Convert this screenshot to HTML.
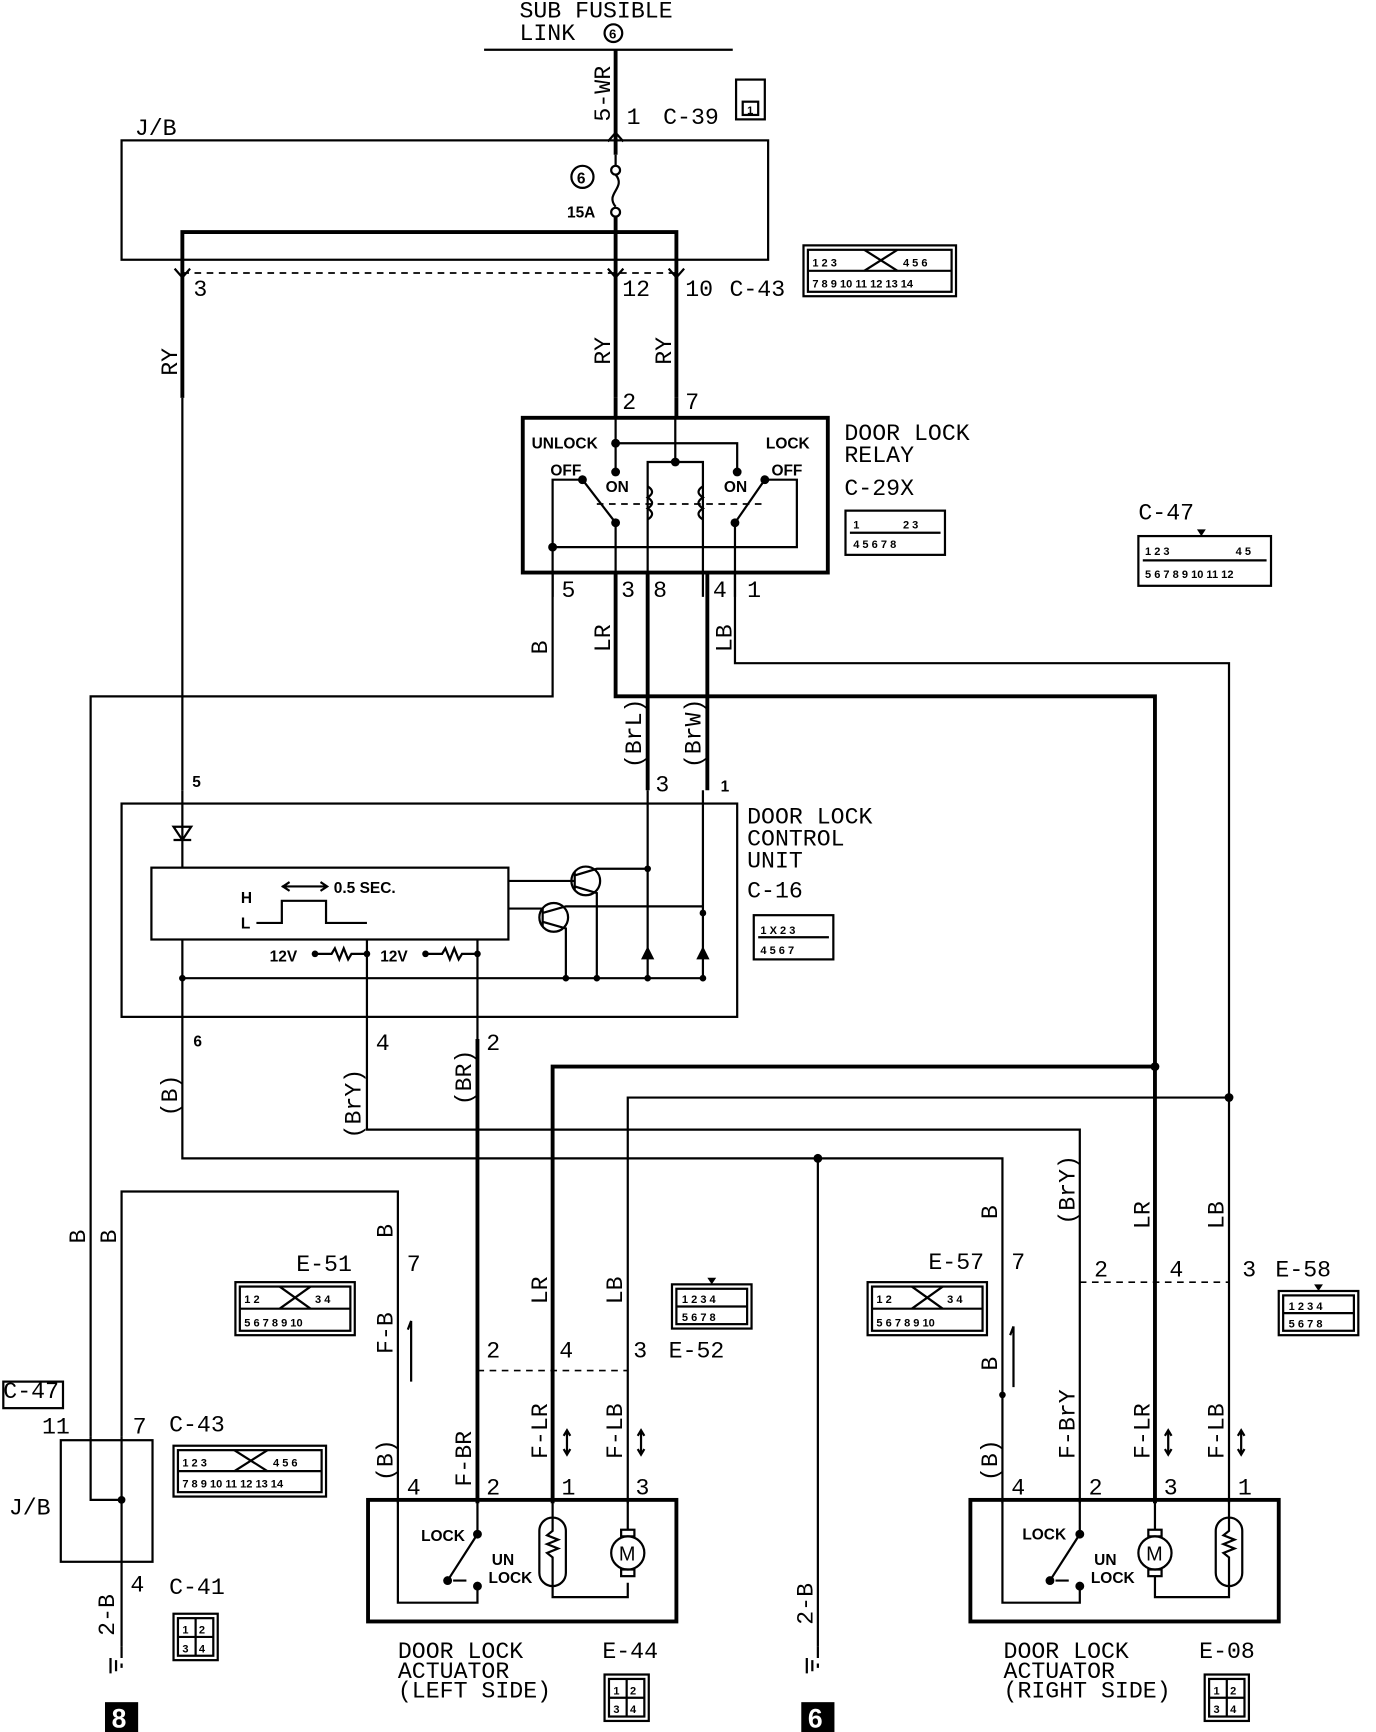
<!DOCTYPE html>
<html><head><meta charset="utf-8"><style>
html,body{margin:0;padding:0;background:#fff}
svg{display:block}
text{font-family:"Liberation Mono",monospace;fill:#000}
.t{font-size:21px}
.s{font-size:14px;font-weight:bold;font-family:"Liberation Sans",sans-serif}
.w{stroke:#000;stroke-width:2;fill:none}
.k{stroke:#000;stroke-width:3.5;fill:none}
.d{stroke:#000;stroke-width:1.5;fill:none;stroke-dasharray:6 5}
.c{font-size:10px;font-weight:bold;font-family:"Liberation Sans",sans-serif}
</style></head><body>
<svg width="1376" height="1732" viewBox="0 0 1245 1567" preserveAspectRatio="none" xmlns="http://www.w3.org/2000/svg">
<defs>
<g id="conn2"><rect x="0" y="0" width="40" height="42" class="w" stroke-width="2.5"/><rect x="4" y="4" width="32" height="34" class="w"/><line x1="20" y1="4" x2="20" y2="38" class="w"/><line x1="4" y1="21" x2="36" y2="21" class="w"/><text x="8" y="18" class="c">1</text><text x="23" y="18" class="c">2</text><text x="8" y="35" class="c">3</text><text x="23" y="35" class="c">4</text></g>
<g id="c14"><rect x="0" y="0" width="138" height="46" class="w" stroke-width="2.5"/><rect x="4" y="4" width="130" height="38" class="w"/><line x1="4" y1="23" x2="134" y2="23" class="w"/>
<text x="8" y="19" class="c">1 2 3</text><text x="90" y="19" class="c">4 5 6</text><text x="8" y="38" class="c">7 8 9 10 11 12 13 14</text><line x1="55" y1="4" x2="85" y2="23" class="w"/><line x1="85" y1="4" x2="55" y2="23" class="w"/></g>
<g id="c10"><rect x="0" y="0" width="108" height="48" class="w" stroke-width="2.5"/><rect x="4" y="4" width="100" height="40" class="w"/><line x1="4" y1="24" x2="104" y2="24" class="w"/>
<text x="8" y="19" class="c">1  2</text><text x="72" y="19" class="c">3  4</text><text x="8" y="40" class="c">5 6 7 8 9 10</text><line x1="40" y1="4" x2="68" y2="24" class="w"/><line x1="68" y1="4" x2="40" y2="24" class="w"/></g>
<g id="c8"><rect x="0" y="0" width="72" height="40" class="w" stroke-width="2.5"/><rect x="4" y="4" width="64" height="32" class="w"/><line x1="4" y1="20" x2="68" y2="20" class="w"/><text x="9" y="17" class="c">1 2 3 4</text><text x="9" y="33" class="c">5 6 7 8</text><path d="M32 -6 L40 -6 L36 0Z"/></g>
</defs>

<!-- top -->
<text x="470" y="16" class="t">SUB FUSIBLE</text>
<text x="470" y="36" class="t">LINK</text>
<circle cx="555" cy="30" r="8" class="w"/><text x="551" y="35" class="c" style="font-size:12px">6</text>
<line x1="438" y1="45" x2="663" y2="45" class="w"/>
<line x1="557" y1="45" x2="557" y2="140" class="k"/>
<text transform="translate(552,110) rotate(-90)" class="t">5-WR</text>
<text x="567" y="112" class="t">1</text><text x="600" y="112" class="t">C-39</text>
<rect x="666" y="72" width="26" height="36" class="w" stroke-width="2.5"/><rect x="672" y="92" width="14" height="12" class="w"/><text x="676" y="103" class="c">1</text>
<text x="122" y="122" class="t">J/B</text>
<rect x="110" y="127" width="585" height="108" class="w"/>
<circle cx="527" cy="160" r="10" class="w"/><text x="522" y="166" class="c" style="font-size:14px">6</text>
<path d="M557 140 V150 M557 158 C567 170,547 175,557 187" class="w"/>
<circle cx="557" cy="154" r="4" class="w"/><circle cx="557" cy="192" r="4" class="w"/>
<text x="513" y="197" class="s">15A</text>
<line x1="557" y1="196" x2="557" y2="360" class="k"/>
<path d="M165 360 V210 H612 V360" class="k"/>
<line x1="165" y1="247" x2="612" y2="247" class="d"/>
<text x="175" y="268" class="t">3</text><text x="563" y="268" class="t">12</text><text x="620" y="268" class="t">10</text><text x="660" y="268" class="t">C-43</text>
<use href="#c14" x="727" y="222"/>
<text transform="translate(160,340) rotate(-90)" class="t">RY</text>
<text transform="translate(552,330) rotate(-90)" class="t">RY</text>
<text transform="translate(607,330) rotate(-90)" class="t">RY</text>
<path d="M550 128 L557 120 L564 128 M550 243 L557 251 L564 243 M158 243 L165 251 L172 243 M605 243 L612 251 L619 243" class="w"/>

<!-- relay -->
<text x="563" y="370" class="t">2</text><text x="620" y="370" class="t">7</text>
<path d="M557 360 V378 M612 360 V378" class="k"/>
<rect x="473" y="378" width="276" height="140" class="k" stroke-width="3"/>
<text x="481" y="406" class="s">UNLOCK</text><text x="693" y="406" class="s">LOCK</text>
<text x="498" y="430" class="s">OFF</text><text x="698" y="430" class="s">OFF</text>
<text x="548" y="445" class="s">ON</text><text x="655" y="445" class="s">ON</text>
<path d="M557 378 V427 M557 401 H667 V427 M611 378 V418 M586 540 V418 H636 V540" class="w" stroke-width="2.5"/>
<path d="M586 440 q8 5 0 10 q8 5 0 10 q8 5 0 10 M636 440 q-8 5 0 10 q-8 5 0 10 q-8 5 0 10" class="w"/>
<path d="M557 540 V473 L527 434 M527 434 H500 V540 M500 495 H721 V434 H692 M665 540 V473 L692 434" class="w" stroke-width="2.5"/>
<line x1="540" y1="456" x2="690" y2="456" class="d"/>
<g fill="#000"><circle cx="557" cy="401" r="4"/><circle cx="557" cy="427" r="4"/><circle cx="667" cy="427" r="4"/><circle cx="611" cy="418" r="4"/><circle cx="557" cy="473" r="4"/><circle cx="665" cy="473" r="4"/><circle cx="500" cy="495" r="4"/><circle cx="527" cy="434" r="4"/><circle cx="692" cy="434" r="4"/></g>
<text x="764" y="398" class="t">DOOR LOCK</text><text x="764" y="418" class="t">RELAY</text>
<text x="764" y="448" class="t">C-29X</text>
<rect x="765" y="462" width="90" height="40" class="w" stroke-width="2.5"/><line x1="769" y1="482" x2="851" y2="482" class="w"/><text x="772" y="478" class="c">1</text><text x="817" y="478" class="c">2 3</text><text x="772" y="496" class="c">4 5 6 7 8</text>
<text x="1030" y="470" class="t">C-47</text>
<rect x="1030" y="485" width="120" height="45" class="w" stroke-width="2.5"/><line x1="1034" y1="507" x2="1146" y2="507" class="w"/><text x="1036" y="502" class="c">1 2 3</text><text x="1118" y="502" class="c">4 5</text><text x="1036" y="523" class="c">5 6 7 8 9 10 11 12</text><path d="M1083 479 h8 l-4 6z"/>

<text x="508" y="540" class="t">5</text><text x="562" y="540" class="t">3</text><text x="591" y="540" class="t">8</text><text x="645" y="540" class="t">4</text><text x="676" y="540" class="t">1</text>
<!-- wires from relay -->
<path d="M500 518 V630 H82 V1300" class="w"/>
<path d="M557 518 V630 H1045 V1360" class="k" stroke-width="3"/>
<path d="M665 518 V600 H1112 V1360" class="w" stroke-width="2.5"/>
<path d="M586 518 V715 M640 518 V715" class="k" stroke-width="3"/>
<path d="M165 360 V715" class="w"/>
<text transform="translate(495,592) rotate(-90)" class="t">B</text>
<text transform="translate(552,590) rotate(-90)" class="t">LR</text>
<text transform="translate(662,590) rotate(-90)" class="t">LB</text>
<text transform="translate(580,695) rotate(-90)" class="t">(BrL)</text>
<text transform="translate(634,695) rotate(-90)" class="t">(BrW)</text>
<text x="174" y="712" class="s">5</text><text x="593" y="716" class="t">3</text><text x="652" y="716" class="s">1</text>

<!-- control unit -->
<rect x="110" y="727" width="557" height="193" class="w" stroke-width="3"/>
<text x="676" y="745" class="t">DOOR LOCK</text><text x="676" y="765" class="t">CONTROL</text><text x="676" y="785" class="t">UNIT</text>
<text x="676" y="812" class="t">C-16</text>
<rect x="682" y="828" width="72" height="40" class="w" stroke-width="2.5"/><line x1="686" y1="848" x2="750" y2="848" class="w"/><text x="688" y="845" class="c">1 X 2 3</text><text x="688" y="863" class="c">4 5 6 7</text>
<path d="M165 715 V785 M165 850 V940 M332 850 V940 M432 850 V940 M586 715 V885 M636 715 V885" class="w"/>
<path d="M157 748 h16 l-8 12z M157 760 h16" class="w" fill="#000"/>
<rect x="137" y="785" width="323" height="65" class="w"/>
<text x="218" y="817" class="s">H</text><text x="218" y="840" class="s">L</text>
<path d="M232 835 H255 V815 H295 V835 H332" class="w"/>
<path d="M255 802 H295 M262 798 L256 802 L262 806 M290 798 L296 802 L290 806" class="w"/>
<text x="302" y="808" class="s">0.5 SEC.</text>
<circle cx="530" cy="797" r="13" class="w"/><circle cx="501" cy="830" r="13" class="w"/>
<path d="M460 797 H520 M520 789 V805 M520 792 L540 786 H586 M520 802 L540 808 V885 M460 822 H491 M491 822 V838 M491 826 L512 820 H636 M491 834 L512 840 V885" class="w"/>
<path d="M165 885 H636" class="w" stroke-width="2.5"/>
<path d="M580 868 h12 l-6 -12z M630 868 h12 l-6 -12z" fill="#000"/>
<text x="244" y="870" class="s">12V</text><text x="344" y="870" class="s">12V</text>
<path d="M285 863 H300 l3 -5 l4 10 l4 -10 l4 10 l3 -5 H332 M385 863 H400 l3 -5 l4 10 l4 -10 l4 10 l3 -5 H432" class="w"/>
<g fill="#000"><circle cx="285" cy="863" r="3"/><circle cx="385" cy="863" r="3"/><circle cx="332" cy="863" r="3"/><circle cx="432" cy="863" r="3"/><circle cx="165" cy="885" r="3"/><circle cx="512" cy="885" r="3"/><circle cx="540" cy="885" r="3"/><circle cx="586" cy="885" r="3"/><circle cx="636" cy="885" r="3"/><circle cx="586" cy="786" r="3"/><circle cx="636" cy="826" r="3"/></g>
<text x="175" y="947" class="s">6</text><text x="340" y="950" class="t">4</text><text x="440" y="950" class="t">2</text>

<!-- lower wiring -->
<path d="M165 940 V1048 H907 V1360 M740 1048 V1490" class="w"/>
<path d="M332 940 V1022 H977 V1360" class="w"/>
<path d="M432 940 V1360" class="k" stroke-width="3"/>
<path d="M1045 965 H500 V1360" class="k" stroke-width="3"/>
<path d="M1112 993 H568 V1360" class="w" stroke-width="2.5"/>
<path d="M110 1300 V1078 H360 V1360" class="w"/>
<g fill="#000"><circle cx="1045" cy="965" r="4"/><circle cx="1112" cy="993" r="4"/><circle cx="740" cy="1048" r="4"/><circle cx="907" cy="1262" r="3"/></g>
<text transform="translate(160,1010) rotate(-90)" class="t">(B)</text>
<text transform="translate(326,1030) rotate(-90)" class="t">(BrY)</text>
<text transform="translate(426,1000) rotate(-90)" class="t">(BR)</text>
<text transform="translate(77,1125) rotate(-90)" class="t">B</text>
<text transform="translate(105,1125) rotate(-90)" class="t">B</text>
<text transform="translate(355,1120) rotate(-90)" class="t">B</text>
<text transform="translate(902,1103) rotate(-90)" class="t">B</text>
<text transform="translate(972,1108) rotate(-90)" class="t">(BrY)</text>
<text transform="translate(1040,1112) rotate(-90)" class="t">LR</text>
<text transform="translate(1107,1112) rotate(-90)" class="t">LB</text>
<text transform="translate(495,1180) rotate(-90)" class="t">LR</text>
<text transform="translate(563,1180) rotate(-90)" class="t">LB</text>
<text transform="translate(355,1225) rotate(-90)" class="t">F-B</text>
<text transform="translate(355,1340) rotate(-90)" class="t">(B)</text>
<text transform="translate(426,1345) rotate(-90)" class="t">F-BR</text>
<text transform="translate(495,1320) rotate(-90)" class="t">F-LR</text>
<text transform="translate(563,1320) rotate(-90)" class="t">F-LB</text>
<text transform="translate(902,1240) rotate(-90)" class="t">B</text>
<text transform="translate(902,1340) rotate(-90)" class="t">(B)</text>
<text transform="translate(972,1320) rotate(-90)" class="t">F-BrY</text>
<text transform="translate(1040,1320) rotate(-90)" class="t">F-LR</text>
<text transform="translate(1107,1320) rotate(-90)" class="t">F-LB</text>
<text x="368" y="1150" class="t">7</text><text x="915" y="1148" class="t">7</text>
<text x="440" y="1228" class="t">2</text><text x="506" y="1228" class="t">4</text><text x="573" y="1228" class="t">3</text><text x="605" y="1228" class="t">E-52</text>
<text x="990" y="1155" class="t">2</text><text x="1058" y="1155" class="t">4</text><text x="1124" y="1155" class="t">3</text><text x="1154" y="1155" class="t">E-58</text>
<line x1="432" y1="1240" x2="568" y2="1240" class="d"/><line x1="977" y1="1160" x2="1112" y2="1160" class="d"/>
<text x="268" y="1150" class="t">E-51</text><use href="#c10" x="213" y="1160"/>
<text x="840" y="1148" class="t">E-57</text><use href="#c10" x="785" y="1160"/>
<use href="#c8" x="608" y="1162"/><use href="#c8" x="1157" y="1168"/>
<path d="M372 1195 V1250 M372 1195 l-3 8 M917 1200 V1255 M917 1200 l-3 8 M513 1295 v20 M510 1299 l3 -5 l3 5 M510 1311 l3 5 l3 -5 M580 1295 v20 M577 1299 l3 -5 l3 5 M577 1311 l3 5 l3 -5 M1057 1295 v20 M1054 1299 l3 -5 l3 5 M1054 1311 l3 5 l3 -5 M1123 1295 v20 M1120 1299 l3 -5 l3 5 M1120 1311 l3 5 l3 -5" class="w"/>

<!-- left J/B -->
<text x="3" y="1265" class="t">C-47</text><rect x="3" y="1250" width="54" height="24" class="w" stroke-width="2.5"/>
<text x="38" y="1297" class="t">11</text><text x="120" y="1297" class="t">7</text><text x="153" y="1295" class="t">C-43</text>
<use href="#c14" x="157" y="1308"/>
<rect x="55" y="1303" width="83" height="110" class="w"/>
<text x="8" y="1370" class="t">J/B</text>
<path d="M82 1300 V1357 H110 M110 1300 V1490" class="w"/><circle cx="110" cy="1357" r="3.5"/>
<text x="118" y="1440" class="t">4</text><text x="153" y="1442" class="t">C-41</text>
<use href="#conn2" x="157" y="1460"/>
<text transform="translate(103,1480) rotate(-90)" class="t">2-B</text>
<path d="M110 1490 V1500 M100 1500 v14 M105 1502 v10 M110 1505 v4" class="w"/>
<rect x="95" y="1540" width="30" height="27" fill="#000"/><text x="101" y="1563" style="font-size:24px;fill:#fff;font-family:'Liberation Sans',sans-serif;font-weight:bold">8</text>
<text transform="translate(735,1470) rotate(-90)" class="t">2-B</text>
<path d="M740 1490 V1500 M730 1500 v14 M735 1502 v10 M740 1505 v4" class="w"/>
<rect x="725" y="1540" width="30" height="27" fill="#000"/><text x="731" y="1563" style="font-size:24px;fill:#fff;font-family:'Liberation Sans',sans-serif;font-weight:bold">6</text>

<!-- left actuator -->
<rect x="333" y="1357" width="279" height="110" class="k" stroke-width="3"/>
<text x="368" y="1352" class="t">4</text><text x="440" y="1352" class="t">2</text><text x="508" y="1352" class="t">1</text><text x="575" y="1352" class="t">3</text>
<text x="381" y="1394" class="s">LOCK</text><text x="445" y="1416" class="s">UN</text><text x="442" y="1432" class="s">LOCK</text>
<path d="M360 1357 V1450 H432 V1435 M432 1357 V1388 L405 1430 M410 1430 h12" class="w"/>
<g fill="#000"><circle cx="432" cy="1388" r="4"/><circle cx="405" cy="1430" r="4"/><circle cx="432" cy="1435" r="4"/></g>
<rect x="488" y="1373" width="24" height="62" rx="12" class="w"/>
<path d="M500 1357 V1385 l-5 4 l10 4 l-10 4 l10 4 l-10 4 l5 4 V1445 H568 V1432" class="w"/>
<circle cx="568" cy="1405" r="15" class="w"/><text x="560" y="1412" style="font-size:18px;font-family:'Liberation Sans'">M</text>
<rect x="562" y="1384" width="12" height="6" class="w"/><rect x="562" y="1420" width="12" height="6" class="w"/>
<path d="M568 1357 V1384" class="w"/>
<text x="360" y="1500" class="t">DOOR LOCK</text><text x="360" y="1518" class="t">ACTUATOR</text><text x="360" y="1536" class="t">(LEFT SIDE)</text>
<text x="545" y="1500" class="t">E-44</text><use href="#conn2" x="547" y="1515"/>

<!-- right actuator -->
<rect x="878" y="1357" width="279" height="110" class="k" stroke-width="3"/>
<text x="915" y="1352" class="t">4</text><text x="985" y="1352" class="t">2</text><text x="1053" y="1352" class="t">3</text><text x="1120" y="1352" class="t">1</text>
<text x="925" y="1393" class="s">LOCK</text><text x="990" y="1416" class="s">UN</text><text x="987" y="1432" class="s">LOCK</text>
<path d="M907 1357 V1450 H977 V1435 M977 1357 V1388 L950 1430 M955 1430 h12" class="w"/>
<g fill="#000"><circle cx="977" cy="1388" r="4"/><circle cx="950" cy="1430" r="4"/><circle cx="977" cy="1435" r="4"/></g>
<circle cx="1045" cy="1405" r="15" class="w"/><text x="1037" y="1412" style="font-size:18px;font-family:'Liberation Sans'">M</text>
<rect x="1039" y="1384" width="12" height="6" class="w"/><rect x="1039" y="1420" width="12" height="6" class="w"/>
<path d="M1045 1357 V1384 M1045 1426 V1445 H1112 V1435" class="w"/>
<rect x="1100" y="1373" width="24" height="62" rx="12" class="w"/>
<path d="M1112 1357 V1385 l-5 4 l10 4 l-10 4 l10 4 l-10 4 l5 4 V1435" class="w"/>
<text x="908" y="1500" class="t">DOOR LOCK</text><text x="908" y="1518" class="t">ACTUATOR</text><text x="908" y="1536" class="t">(RIGHT SIDE)</text>
<text x="1085" y="1500" class="t">E-08</text><use href="#conn2" x="1090" y="1515"/>
</svg>
</body></html>
